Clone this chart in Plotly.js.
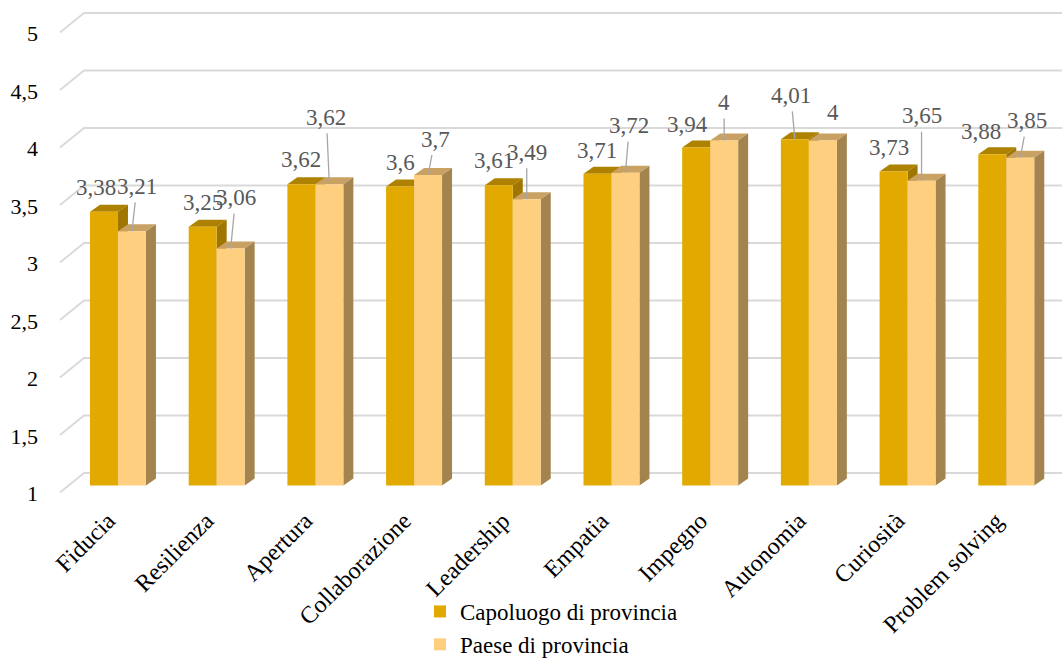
<!DOCTYPE html>
<html>
<head>
<meta charset="utf-8">
<script src="https://cdn.plot.ly/plotly-3.0.1.min.js"></script>
<style>
  html, body { margin: 0; padding: 0; background: #ffffff; }
  #chart { width: 1062px; height: 659px; }
</style>
</head>
<body>
<div id="chart"></div>
<script>
// Skill scores by place of residence
const categories = ['Fiducia', 'Resilienza', 'Apertura', 'Collaborazione', 'Leadership',
                    'Empatia', 'Impegno', 'Autonomia', 'Curiosità', 'Problem solving'];
const capoluogo = [3.38, 3.25, 3.62, 3.6, 3.61, 3.71, 3.94, 4.01, 3.73, 3.88];
const paese     = [3.21, 3.06, 3.62, 3.7, 3.49, 3.72, 4, 4, 3.65, 3.85];
const seriesNames = ['Capoluogo di provincia', 'Paese di provincia'];
const yTickVals = [1, 1.5, 2, 2.5, 3, 3.5, 4, 4.5, 5];
const yTickText = ['1', '1,5', '2', '2,5', '3', '3,5', '4', '4,5', '5'];

// Data label placement: pixel offset of the text centre from the top of its bar,
// and whether a leader line joins them.
const capLabelShift   = [[-8,-24],[0,-24],[0,-25],[0,-24],[-5,-25],[0,-23],[-9,-23],[-4,-44],[-5,-24],[-11,-23]];
const capLeader       = [false,false,false,false,false,false,false,true,false,false];
const paeseLabelShift = [[5,-45],[5,-51],[-3,-67],[7,-36],[0,-47],[4,-47],[0,-38],[10,-28],[0,-65],[7,-37]];
const paeseLeader     = [true,true,true,true,true,true,true,false,true,true];

// Colours: front, top and side faces of the two series
const CAP   = { front: '#E2AA00', top: '#AE8200', side: '#9E7600' };
const PAESE = { front: '#FFCF80', top: '#C9A263', side: '#A3844F' };
const GRID  = '#D9D9D9';
const SERIF = 'Liberation Serif';

// Plot geometry
const W = 1062, H = 659;
const M = { l: 55, r: 0, t: 5, b: 162, autoexpand: false };
const plotW = W - M.l - M.r, plotH = H - M.t - M.b;
const catPx = 98.7;          // pixels per category
const valPx = 115;           // pixels per unit of score
const xRange = [-0.638, -0.638 + plotW / catPx];
const yRange = [0.9, 0.9 + plotH / valPx];
const baseVal = 1;
const bargap = 0.433;
const barW = (1 - bargap) / 2;

// 3D offsets (converted from pixels to axis units)
const px2x = p => p / catPx;
const px2y = p => p / valPx;
const depthX = px2x(10), depthY = px2y(7);
const wallFrontX = xRange[0] + px2x(60 - M.l);
const wallBackX  = xRange[0] + px2x(84 - M.l);
const wallFrontDy = -px2y(7);
const wallBackDy  = px2y(12.5);

function poly(pts, color) {
  return {
    type: 'path', xref: 'x', yref: 'y', layer: 'below',
    path: 'M' + pts.map(p => p[0] + ',' + p[1]).join('L') + 'Z',
    fillcolor: color, line: { width: 0 }
  };
}

const shapes = [];

// back wall gridlines with the receding floor/side edge
yTickVals.forEach(v => {
  shapes.push({
    type: 'path', xref: 'x', yref: 'y', layer: 'below',
    path: 'M' + wallFrontX + ',' + (v + wallFrontDy) +
          'L' + wallBackX + ',' + (v + wallBackDy) +
          'L' + xRange[1] + ',' + (v + wallBackDy),
    line: { color: GRID, width: 1.8 }
  });
});

// top and side faces of the bars (front faces come from the bar traces)
categories.forEach((c, i) => {
  const L = i - barW, R = i, P = i + barW;
  const cv = capoluogo[i], pv = paese[i];
  shapes.push(poly([[L, cv], [R, cv], [R + depthX, cv + depthY], [L + depthX, cv + depthY]], CAP.top));
  shapes.push(poly([[R, baseVal], [R, cv], [R + depthX, cv + depthY], [R + depthX, baseVal + depthY]], CAP.side));
  shapes.push(poly([[R, pv], [P, pv], [P + depthX, pv + depthY], [R + depthX, pv + depthY]], PAESE.top));
  shapes.push(poly([[P, baseVal], [P, pv], [P + depthX, pv + depthY], [P + depthX, baseVal + depthY]], PAESE.side));
});

const fmt = v => String(v).replace('.', ',');

function dataLabel(x, v, shift, leader) {
  const a = {
    x: x, y: v, xref: 'x', yref: 'y',
    text: fmt(v),
    font: { family: SERIF, size: 23, color: '#595959' }
  };
  if (leader) {
    Object.assign(a, {
      showarrow: true, ax: shift[0], ay: shift[1],
      arrowhead: 0, arrowwidth: 1.3, arrowcolor: '#A6A6A6', standoff: 0, startstandoff: 2
    });
  } else {
    Object.assign(a, {
      showarrow: false, xshift: shift[0], yshift: -shift[1],
      xanchor: 'center', yanchor: 'middle'
    });
  }
  return a;
}

const annotations = [];
categories.forEach((c, i) => {
  annotations.push(dataLabel(i - barW / 2, capoluogo[i], capLabelShift[i], capLeader[i]));
  annotations.push(dataLabel(i + barW / 2, paese[i], paeseLabelShift[i], paeseLeader[i]));
});

const xIdx = categories.map((c, i) => i);

const traces = [
  {
    type: 'bar', name: seriesNames[0], x: xIdx,
    y: capoluogo.map(v => v - baseVal), base: baseVal,
    marker: { color: CAP.front, line: { width: 0 } }, hoverinfo: 'skip'
  },
  {
    type: 'bar', name: seriesNames[1], x: xIdx,
    y: paese.map(v => v - baseVal), base: baseVal,
    marker: { color: PAESE.front, line: { width: 0 } }, hoverinfo: 'skip'
  }
];

const layout = {
  width: W, height: H,
  margin: M,
  font: { family: SERIF },
  paper_bgcolor: '#ffffff', plot_bgcolor: '#ffffff',
  barmode: 'group', bargap: bargap, bargroupgap: 0,
  showlegend: true,
  legend: {
    orientation: 'v', x: (420 - M.l) / plotW, xanchor: 'left',
    y: (M.t + plotH - 590) / plotH, yanchor: 'top',
    font: { family: SERIF, size: 23, color: '#000000' },
    bgcolor: 'rgba(0,0,0,0)', traceorder: 'normal', tracegroupgap: 0
  },
  xaxis: {
    type: 'linear', range: xRange, fixedrange: true, automargin: false,
    tickvals: xIdx, ticktext: categories, tickangle: -45,
    tickfont: { family: SERIF, size: 24, color: '#000000' },
    showgrid: false, zeroline: false, showline: false, ticks: '',
    ticklabelstandoff: 4, ticklabelshift: -10
  },
  yaxis: {
    range: yRange, fixedrange: true, automargin: false,
    tickvals: yTickVals, ticktext: yTickText,
    tickfont: { family: SERIF, size: 22, color: '#000000' },
    showgrid: false, zeroline: false, showline: false, ticks: '',
    ticklabelstandoff: 16, ticklabelshift: 8
  },
  shapes: shapes,
  annotations: annotations
};

Plotly.newPlot('chart', traces, layout, { displayModeBar: false, staticPlot: true });
</script>
</body>
</html>
